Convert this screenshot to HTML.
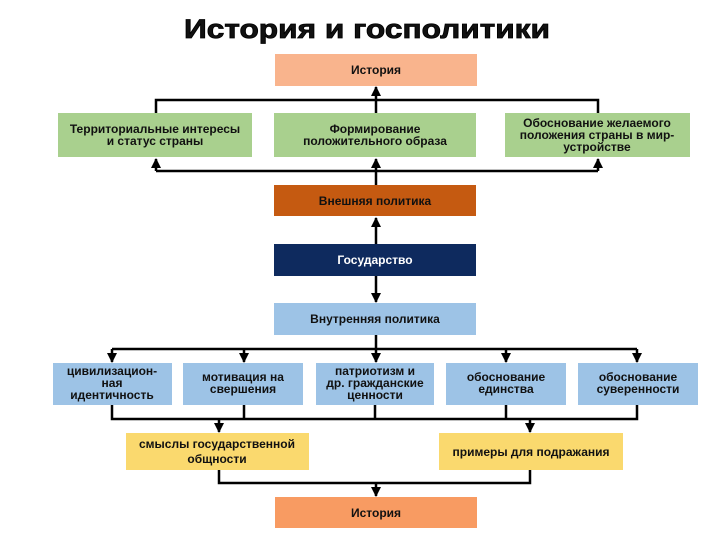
<!DOCTYPE html>
<html><head><meta charset="utf-8"><style>
html,body{margin:0;padding:0;background:#fff;}
svg{display:block;}
text{font-family:"Liberation Sans",Arial,sans-serif;font-weight:bold;font-size:12px;fill:#111;text-anchor:middle;}
</style></head><body>
<svg width="720" height="540" viewBox="0 0 720 540" xmlns="http://www.w3.org/2000/svg">
<defs>
<marker id="a" viewBox="0 0 10 10" refX="9" refY="5" markerWidth="4" markerHeight="4" orient="auto"><path d="M0,0 L10,5 L0,10 z" fill="#000"/></marker>
</defs>
<text x="367" y="38" style="font-size:27px;font-weight:900;stroke:#000;stroke-width:0.8" textLength="366" lengthAdjust="spacingAndGlyphs">История и госполитики</text>

<g stroke="#000" stroke-width="2.5" fill="none">
<!-- top -->
<path d="M156 113 V100 H598 V113"/>
<path d="M376 113 V87" marker-end="url(#a)"/>
<path d="M376 185 V159" marker-end="url(#a)"/>
<path d="M156 171 H598"/>
<path d="M156 171 V159" marker-end="url(#a)"/>
<path d="M598 171 V159" marker-end="url(#a)"/>
<path d="M376 244 V218" marker-end="url(#a)"/>
<path d="M376 276 V302" marker-end="url(#a)"/>
<!-- middle -->
<path d="M376 335 V349"/>
<path d="M112 349 H637"/>
<path d="M112 349 V362" marker-end="url(#a)"/>
<path d="M244 349 V362" marker-end="url(#a)"/>
<path d="M376 349 V362" marker-end="url(#a)"/>
<path d="M506 349 V362" marker-end="url(#a)"/>
<path d="M637 349 V362" marker-end="url(#a)"/>
<path d="M112 405 V419 H637 V405 M244 405 V419 M375 405 V419 M506 405 V419"/>
<path d="M219 419 V432" marker-end="url(#a)"/>
<path d="M530 419 V432" marker-end="url(#a)"/>
<path d="M219 470 V483 H530 V470"/>
<path d="M376 483 V496" marker-end="url(#a)"/>
</g>

<rect x="275" y="54" width="202" height="32" fill="#F9B48D"/>
<text x="376" y="74">История</text>

<rect x="58" y="113" width="194" height="44" fill="#A9D08E"/>
<text x="155" y="133">Территориальные интересы</text>
<text x="155" y="145">и статус страны</text>
<rect x="274" y="113" width="202" height="44" fill="#A9D08E"/>
<text x="375" y="133">Формирование</text>
<text x="375" y="145">положительного образа</text>
<rect x="505" y="113" width="185" height="44" fill="#A9D08E"/>
<text x="597" y="127">Обоснование желаемого</text>
<text x="597" y="139">положения страны в мир-</text>
<text x="597" y="151">устройстве</text>

<rect x="274" y="185" width="202" height="31" fill="#C55A11"/>
<text x="375" y="205">Внешняя политика</text>

<rect x="274" y="244" width="202" height="32" fill="#0E2A5E"/>
<text x="375" y="264" style="fill:#fff">Государство</text>

<rect x="274" y="303" width="202" height="32" fill="#9DC3E6"/>
<text x="375" y="323">Внутренняя политика</text>

<rect x="53" y="363" width="119" height="42" fill="#9DC3E6"/>
<text x="112" y="375">цивилизацион-</text>
<text x="112" y="387">ная</text>
<text x="112" y="399">идентичность</text>
<rect x="183" y="363" width="120" height="42" fill="#9DC3E6"/>
<text x="243" y="381">мотивация на</text>
<text x="243" y="393">свершения</text>
<rect x="316" y="363" width="118" height="42" fill="#9DC3E6"/>
<text x="375" y="375">патриотизм и</text>
<text x="375" y="387">др. гражданские</text>
<text x="375" y="399">ценности</text>
<rect x="446" y="363" width="120" height="42" fill="#9DC3E6"/>
<text x="506" y="381">обоснование</text>
<text x="506" y="393">единства</text>
<rect x="578" y="363" width="120" height="42" fill="#9DC3E6"/>
<text x="638" y="381">обоснование</text>
<text x="638" y="393">суверенности</text>

<rect x="126" y="433" width="183" height="37" fill="#FAD96E"/>
<text x="217" y="448">смыслы государственной</text>
<text x="217" y="463">общности</text>
<rect x="439" y="433" width="184" height="37" fill="#FAD96E"/>
<text x="531" y="456">примеры для подражания</text>

<rect x="275" y="497" width="202" height="31" fill="#F89B62"/>
<text x="376" y="517">История</text>
</svg>
</body></html>
